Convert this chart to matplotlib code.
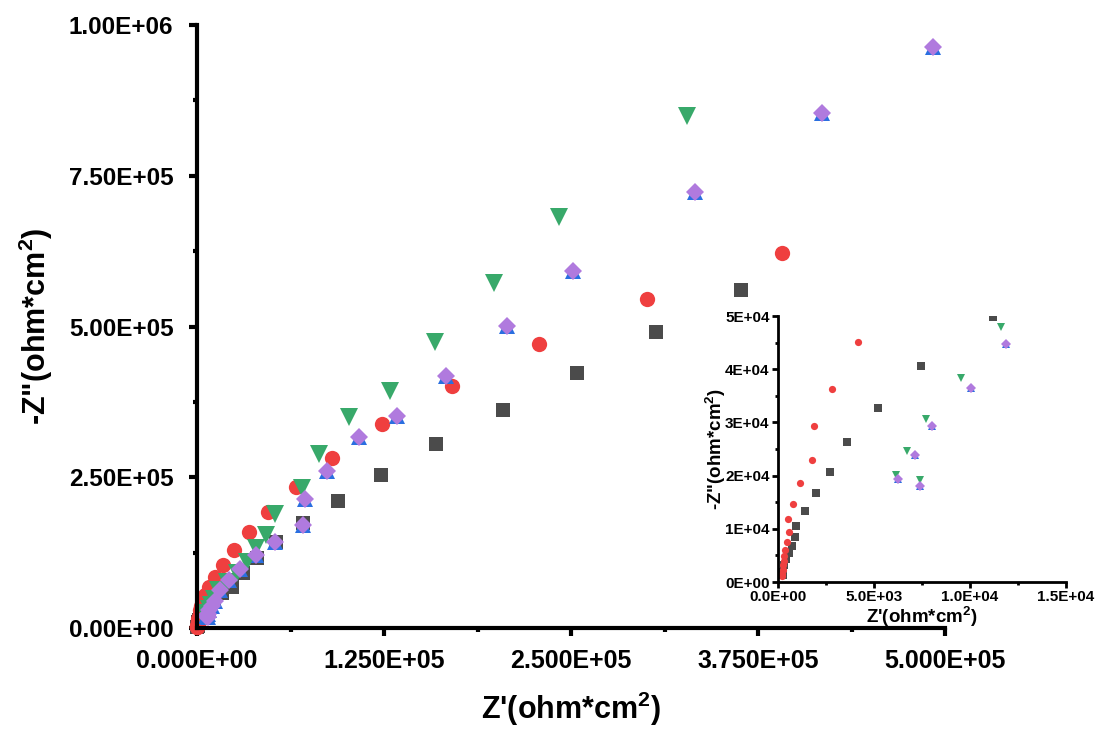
import numpy as np
import matplotlib
matplotlib.use("Agg")
import matplotlib.pyplot as plt
from matplotlib.ticker import MultipleLocator, FormatStrFormatter

plt.rcParams['font.family'] = ['Liberation Sans', 'DejaVu Sans']
plt.rcParams['font.weight'] = 'bold'
plt.rcParams['mathtext.fontset'] = 'custom'
plt.rcParams['mathtext.bf'] = 'Liberation Sans:bold'
plt.rcParams['mathtext.rm'] = 'Liberation Sans:bold'

# series values: Z' (x) and -Z'' (y), ohm*cm^2
black_x = [363450, 306560, 253680, 204820, 159970, 123160, 94380, 70950, 52880,
           40160, 30790, 23430, 16500,
           11180, 7465, 5226, 3594, 2726, 1997, 1389, 938, 903, 747, 556, 434, 330, 278, 243]
black_y = [560530, 490880, 422890, 361530, 305140, 253730, 210610, 174130, 142620,
           116090, 91210, 68000, 57500,
           49810, 40660, 32710, 26320, 20680, 16730, 13280, 10530, 8460, 6770, 5450, 4390, 3130, 1880, 1250]

red_x = [390900, 300540, 228250, 170680, 123830, 90360, 66270, 47520, 34810, 24770,
         17400, 12050, 8030, 5350,
         4167, 2813, 1875, 1788, 1163, 764, 521, 590, 469, 382, 330, 295, 260, 243, 226, 208]
red_y = [621900, 545600, 470980, 401330, 338310, 281920, 233830, 192370, 159200, 129350,
         104480, 84580, 67990, 54730,
         45180, 36280, 29260, 23000, 18550, 14720, 11780, 9400, 7520, 6080, 4820, 3950, 3130, 2320, 1570, 1070]

green_x = [327310, 241630, 198800, 159000, 129180, 101740, 81660, 70280, 52210, 46180,
           39490, 33470, 26770, 20080, 14060,
           11615, 9549, 7726, 6719, 6128, 7413]
green_y = [849100, 681600, 572100, 474000, 393000, 349900, 288600, 232200, 189100, 154200,
           132700, 109500, 91200, 76300, 62300,
           47930, 38410, 30700, 24620, 20110, 19110]

purple_x = [491970, 417670, 332660, 251000, 207500, 166670, 133870, 108430, 87020, 72290,
            70950, 52210, 39490, 28780, 21420, 15390,
            11858, 10052, 8021, 7118, 6233, 7396]
purple_y = [963500, 854060, 723050, 592040, 500830, 417910, 351580, 316750, 260360, 213930,
            170810, 142620, 121060, 97840, 79600, 63020,
            44800, 36470, 29260, 23810, 19300, 17980]

blue_x = list(purple_x)
blue_y = list(purple_y)

xlabel = "Z'(ohm*cm$^{\\mathbf{2}}$)"
ylabel = '-Z"(ohm*cm$^{\\mathbf{2}}$)'

series = [
    (black_x, black_y, 's', '#4b4b4b', 9.5, 5.2),
    (red_x, red_y, 'o', '#ef3f3f', 11, 5.2),
    (blue_x, blue_y, '^', '#2a6fe0', 12, 5.2),
    (green_x, green_y, 'v', '#38a96a', 12.5, 6.0),
    (purple_x, purple_y, 'D', '#b07ade', 8.7, 4.6),
]

fig = plt.figure(figsize=(10.99, 7.31), dpi=100)

# main plot
ax = fig.add_axes([0.1793, 0.1409, 0.6806, 0.8249])
for x, y, m, c, ms, _ in series:
    ax.plot(x, y, linestyle='none', marker=m, color=c, markersize=ms,
            markeredgewidth=0, clip_on=False)
ax.set_xlim(0, 5.0e5)
ax.set_ylim(0, 1.0e6)
ax.xaxis.set_major_locator(MultipleLocator(1.25e5))
ax.xaxis.set_minor_locator(MultipleLocator(6.25e4))
ax.yaxis.set_major_locator(MultipleLocator(2.5e5))
ax.yaxis.set_minor_locator(MultipleLocator(1.25e5))
ax.xaxis.set_major_formatter(FormatStrFormatter('%.3E'))
ax.yaxis.set_major_formatter(FormatStrFormatter('%.2E'))
for s in ['top', 'right']:
    ax.spines[s].set_visible(False)
for s in ['left', 'bottom']:
    ax.spines[s].set_linewidth(3)
ax.tick_params(which='major', direction='out', length=6, width=3)
ax.tick_params(which='minor', direction='out', length=3, width=3)
ax.tick_params(axis='y', which='major', pad=11)
ax.tick_params(axis='x', which='major', pad=9)
for lab in ax.get_yticklabels():
    lab.set_fontsize(17.5)
    lab.set_fontweight('bold')
for lab in ax.get_xticklabels():
    lab.set_fontsize(18)
    lab.set_fontweight('bold')
ax.set_xlabel(xlabel, fontsize=22, fontweight='bold', labelpad=12)
ax.set_ylabel(ylabel, fontsize=22, fontweight='bold', labelpad=10)

# inset
axi = fig.add_axes([0.7079, 0.2038, 0.2621, 0.3639])
for x, y, m, c, _, ms in series:
    axi.plot(x, y, linestyle='none', marker=m, color=c, markersize=ms,
             markeredgewidth=0)
axi.set_xlim(0, 1.5e4)
axi.set_ylim(0, 5.0e4)
axi.xaxis.set_major_locator(MultipleLocator(5e3))
axi.xaxis.set_minor_locator(MultipleLocator(2.5e3))
axi.yaxis.set_major_locator(MultipleLocator(1e4))
axi.yaxis.set_minor_locator(MultipleLocator(5e3))
axi.xaxis.set_major_formatter(FormatStrFormatter('%.1E'))
axi.yaxis.set_major_formatter(FormatStrFormatter('%.0E'))
axi.patch.set_alpha(0)
for s in ['top', 'right']:
    axi.spines[s].set_visible(False)
for s in ['left', 'bottom']:
    axi.spines[s].set_linewidth(2)
axi.tick_params(which='major', direction='out', length=4, width=2, pad=2, labelsize=11)
axi.tick_params(which='minor', direction='out', length=2, width=2)
for lab in axi.get_xticklabels() + axi.get_yticklabels():
    lab.set_fontweight('bold')
axi.set_xlabel(xlabel, fontsize=13.5, fontweight='bold', labelpad=0)
axi.set_ylabel(ylabel, fontsize=13.5, fontweight='bold', labelpad=-2)

fig.savefig('out.png', dpi=100)
